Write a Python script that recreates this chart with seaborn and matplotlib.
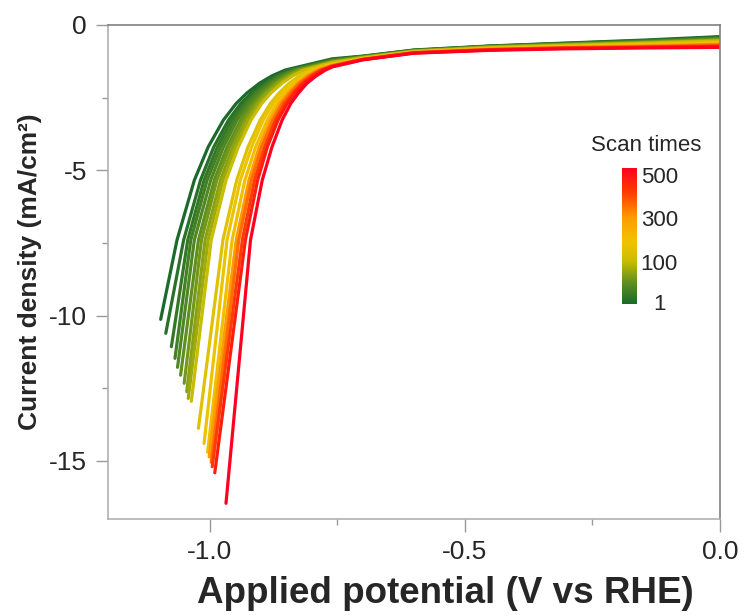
import numpy as np
import pandas as pd
import matplotlib
matplotlib.use("Agg")
import matplotlib.pyplot as plt
from matplotlib.colors import LinearSegmentedColormap
import seaborn as sns

# ---------------- data ----------------
scans = [1, 10, 20, 30, 40, 50, 60, 70, 80, 100, 150, 175, 200, 300, 350, 400, 450, 500]

# end points of each sweep (most cathodic point)
end_v = [-1.096, -1.086, -1.075, -1.068, -1.063, -1.057, -1.050, -1.045, -1.042, -1.036,
         -1.022, -1.011, -1.004, -1.001, -0.997, -0.995, -0.990, -0.968]
end_j = [-10.13, -10.61, -11.07, -11.47, -11.78, -12.05, -12.33, -12.62, -12.85, -12.95,
         -13.88, -14.40, -14.70, -14.86, -15.05, -15.20, -15.41, -16.46]

# potentials (V vs RHE) at which each sweep reaches a given current density (mA/cm2)
j_levels = [-7.40, -5.34, -4.20, -3.27, -2.70, -2.34, -2.00, -1.75, -1.55]
v_at_j = {
    -7.40: [-1.064, -1.051, -1.043, -1.037, -1.030, -1.022, -1.016, -1.009, -1.003, -0.997,
            -0.974, -0.966, -0.956, -0.948, -0.943, -0.936, -0.930, -0.920],
    -5.34: [-1.030, -1.018, -1.011, -1.005, -0.998, -0.991, -0.986, -0.979, -0.974, -0.968,
            -0.947, -0.940, -0.931, -0.923, -0.918, -0.912, -0.906, -0.897],
    -4.20: [-1.003, -0.992, -0.985, -0.979, -0.973, -0.966, -0.961, -0.955, -0.950, -0.944,
            -0.925, -0.918, -0.910, -0.903, -0.898, -0.892, -0.887, -0.878],
    -3.27: [-0.973, -0.963, -0.957, -0.951, -0.946, -0.939, -0.935, -0.929, -0.925, -0.919,
            -0.901, -0.895, -0.887, -0.881, -0.876, -0.871, -0.866, -0.858],
    -2.70: [-0.948, -0.939, -0.933, -0.928, -0.923, -0.917, -0.912, -0.907, -0.903, -0.898,
            -0.881, -0.875, -0.868, -0.862, -0.858, -0.853, -0.848, -0.841],
    -2.34: [-0.927, -0.918, -0.913, -0.908, -0.903, -0.897, -0.893, -0.889, -0.884, -0.880,
            -0.864, -0.858, -0.852, -0.846, -0.842, -0.837, -0.833, -0.826],
    -2.00: [-0.902, -0.894, -0.889, -0.884, -0.880, -0.875, -0.871, -0.867, -0.863, -0.858,
            -0.844, -0.839, -0.832, -0.827, -0.824, -0.819, -0.815, -0.809],
    -1.75: [-0.878, -0.870, -0.866, -0.862, -0.857, -0.853, -0.849, -0.845, -0.841, -0.837,
            -0.824, -0.819, -0.813, -0.808, -0.805, -0.801, -0.797, -0.791],
    -1.55: [-0.852, -0.845, -0.841, -0.837, -0.833, -0.829, -0.826, -0.822, -0.819, -0.815,
            -0.803, -0.798, -0.793, -0.789, -0.785, -0.782, -0.778, -0.773],
}

# current densities of each sweep on the flat part, at given potentials (V vs RHE)
v_levels = [-0.76, -0.70, -0.60, -0.45, -0.30, -0.15, 0.0]
j_at_v = {
    -0.76: [-1.165, -1.190, -1.205, -1.218, -1.232, -1.247, -1.258, -1.272, -1.283, -1.296,
            -1.340, -1.355, -1.374, -1.390, -1.401, -1.414, -1.426, -1.445],
    -0.70: [-1.070, -1.081, -1.089, -1.095, -1.101, -1.108, -1.113, -1.120, -1.125, -1.131,
            -1.151, -1.158, -1.167, -1.174, -1.180, -1.186, -1.191, -1.200],
    -0.60: [-0.860, -0.870, -0.876, -0.881, -0.886, -0.892, -0.897, -0.902, -0.906, -0.912,
            -0.929, -0.935, -0.942, -0.948, -0.953, -0.958, -0.963, -0.970],
    -0.45: [-0.72, -0.73, -0.73, -0.74, -0.75, -0.75, -0.76, -0.76, -0.77, -0.78,
            -0.80, -0.81, -0.82, -0.83, -0.84, -0.85, -0.86, -0.87],
    -0.30: [-0.62, -0.63, -0.64, -0.65, -0.66, -0.67, -0.67, -0.68, -0.69, -0.70,
            -0.73, -0.74, -0.75, -0.77, -0.78, -0.79, -0.80, -0.82],
    -0.15: [-0.52, -0.54, -0.55, -0.57, -0.58, -0.59, -0.60, -0.61, -0.62, -0.63,
            -0.67, -0.68, -0.70, -0.72, -0.74, -0.76, -0.77, -0.79],
    0.0:   [-0.40, -0.42, -0.44, -0.46, -0.47, -0.49, -0.50, -0.52, -0.53, -0.55,
            -0.60, -0.62, -0.64, -0.66, -0.68, -0.72, -0.74, -0.77],
}

cbar_labels = ["1", "100", "300", "500"]
cbar_values = [1, 100, 300, 500]
cbar_positions = [0.015, 0.31, 0.63, 0.95]

# ---------------- build long table ----------------
rows = []
for i, s in enumerate(scans):
    rows.append((s, end_v[i], end_j[i]))
    for jl in j_levels:
        rows.append((s, v_at_j[jl][i], jl))
    for vl in v_levels:
        rows.append((s, vl, j_at_v[vl][i]))
df = pd.DataFrame(rows, columns=["scan", "V", "J"])

# ---------------- colours ----------------
cmap = LinearSegmentedColormap.from_list(
    "scan",
    [(0.0, "#1b6a2b"), (0.15, "#5c8e20"), (0.31, "#c9bd00"), (0.45, "#f0c400"),
     (0.63, "#ff9c00"), (0.82, "#ff3a00"), (1.0, "#ff0020")])

def frac(s):
    return float(np.interp(s, cbar_values, [0.0, 0.31, 0.63, 1.0]))

palette = {s: cmap(frac(s)) for s in scans}

# ---------------- figure ----------------
sns.set_theme(style="white")
plt.rcParams["font.family"] = ["Liberation Sans", "DejaVu Sans"]

fig = plt.figure(figsize=(7.44, 6.15), dpi=100)
ax = fig.add_axes([107.6 / 744, 1 - 519 / 615, (720 - 107.6) / 744, (519 - 25) / 615])

for s in scans:
    sub = df[df["scan"] == s]
    sns.lineplot(data=sub, x="V", y="J", color=palette[s], lw=2.3,
                 estimator=None, sort=True, ax=ax, legend=False)

ax.set_xlim(-1.2, 0.0)
ax.set_ylim(-17, 0)
ax.set_xticks([-1.0, -0.5, 0.0])
ax.set_xticklabels(["-1.0", "-0.5", "0.0"])
ax.set_xticks([-0.75, -0.25], minor=True)
ax.set_yticks([0, -5, -10, -15])
ax.set_yticklabels(["0", "-5", "-10", "-15"])
ax.set_yticks([-2.5, -7.5, -12.5], minor=True)
ax.tick_params(axis="both", which="major", direction="out", length=9, width=1,
               color="#999999", labelsize=19, pad=6)
ax.tick_params(axis="both", which="minor", direction="out", length=4, width=1,
               color="#999999")
ax.tick_params(left=True, bottom=True, top=False, right=False, which="both")
for side in ["left", "bottom"]:
    ax.spines[side].set_color("#b0b0b0")
    ax.spines[side].set_linewidth(1.2)
for side in ["top", "right"]:
    ax.spines[side].set_color("#808080")
    ax.spines[side].set_linewidth(1.2)

ax.set_xlabel("Applied potential (V vs RHE)", fontsize=26.5, fontweight="bold",
              labelpad=9, x=0.551)
ax.set_ylabel("Current density (mA/cm²)", fontsize=19, fontweight="bold", labelpad=5)

# colour bar
cax = fig.add_axes([622 / 744, 1 - 304 / 615, 15 / 744, 136 / 615])
grad = np.linspace(0, 1, 256).reshape(-1, 1)
cax.imshow(grad, aspect="auto", cmap=cmap, origin="lower", extent=[0, 1, 0, 1])
cax.set_xticks([])
cax.set_yticks(cbar_positions)
cax.set_yticklabels(cbar_labels, ha="center")
cax.yaxis.tick_right()
cax.tick_params(axis="y", length=0, labelsize=16, pad=16)
for sp in cax.spines.values():
    sp.set_visible(False)
fig.text(646 / 744, 1 - 145 / 615, "Scan times", fontsize=16, ha="center", va="center")

fig.savefig("out.png", dpi=100)
